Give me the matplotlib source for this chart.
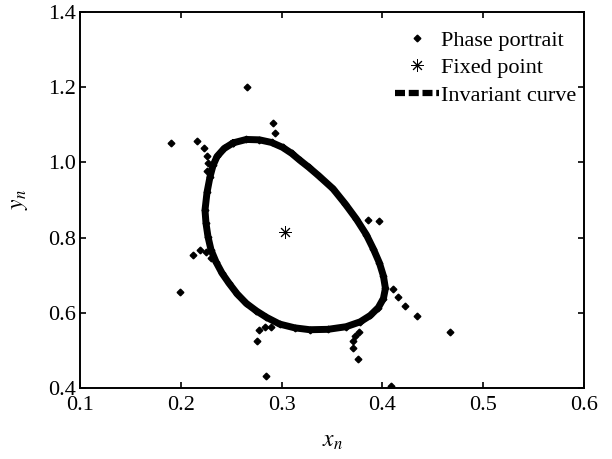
import matplotlib
matplotlib.use("Agg")
import matplotlib.pyplot as plt
from matplotlib.lines import Line2D

plt.rcParams['font.family'] = ['Liberation Serif', 'DejaVu Serif']
plt.rcParams['mathtext.fontset'] = 'stix'

# Invariant curve (closed loop)
curve_x = [0.252, 0.265, 0.278, 0.290, 0.301, 0.310, 0.318, 0.327, 0.337, 0.351,
           0.363, 0.374, 0.384, 0.391, 0.397, 0.401, 0.403, 0.401, 0.396, 0.388,
           0.378, 0.364, 0.346, 0.328, 0.313, 0.298, 0.285, 0.275, 0.265, 0.256,
           0.248, 0.241, 0.235, 0.230, 0.227, 0.225, 0.224, 0.226, 0.229, 0.232,
           0.236, 0.243, 0.252]
curve_y = [1.052, 1.061, 1.060, 1.053, 1.040, 1.024, 1.006, 0.987, 0.964, 0.930,
           0.890, 0.850, 0.808, 0.770, 0.733, 0.698, 0.665, 0.638, 0.614, 0.593,
           0.576, 0.563, 0.556, 0.555, 0.560, 0.570, 0.588, 0.605, 0.625, 0.650,
           0.678, 0.705, 0.735, 0.767, 0.802, 0.838, 0.873, 0.920, 0.962, 0.992,
           1.016, 1.037, 1.052]

# Phase portrait points scattered off the curve
phase_x = [0.266, 0.291, 0.293, 0.190, 0.216, 0.223, 0.226, 0.227, 0.226,
           0.386, 0.397, 0.212, 0.219, 0.225, 0.230, 0.199,
           0.278, 0.284, 0.289, 0.276, 0.285,
           0.411, 0.415, 0.422, 0.434, 0.467,
           0.371, 0.371, 0.373, 0.377, 0.376, 0.409]
phase_y = [1.200, 1.104, 1.079, 1.052, 1.057, 1.037, 1.018, 0.999, 0.978,
           0.847, 0.845, 0.754, 0.767, 0.762, 0.745, 0.656,
           0.554, 0.563, 0.563, 0.525, 0.432,
           0.662, 0.641, 0.618, 0.591, 0.550,
           0.526, 0.507, 0.538, 0.550, 0.477, 0.405]

fixed_x = [0.303]
fixed_y = [0.814]

x_ticks = [0.1, 0.2, 0.3, 0.4, 0.5, 0.6]
y_ticks = [0.4, 0.6, 0.8, 1.0, 1.2, 1.4]

fig = plt.figure(figsize=(6.12, 4.59), dpi=100)
ax = fig.add_axes([80/612, 1-388/459, (584-80)/612, (388-12)/459])

# invariant curve: thick band
ax.plot(curve_x, curve_y, color='black', lw=5.0, solid_joinstyle='round',
        solid_capstyle='round', zorder=2)
# phase portrait points (on and off the curve)
ax.plot(curve_x + phase_x, curve_y + phase_y, linestyle='none', marker='D',
        ms=3.4, color='black', mec='black', zorder=3)
ax.plot(fixed_x, fixed_y, linestyle='none', marker=(8, 2, 0), ms=9,
        color='black', mew=0.7, zorder=4)

ax.set_xlim(0.1, 0.6)
ax.set_ylim(0.4, 1.4)
ax.set_xticks(x_ticks)
ax.set_yticks(y_ticks)
ax.set_xticklabels([f"{v:.1f}" for v in x_ticks])
ax.set_yticklabels([f"{v:.1f}" for v in y_ticks])
ax.tick_params(direction='in', length=4, width=1.2, labelsize=16,
               top=True, right=True)
ax.tick_params(axis='x', pad=6)
ax.tick_params(axis='y', pad=3)
for s in ax.spines.values():
    s.set_linewidth(1.4)

ax.set_xlabel(r'$x_n$', fontsize=17, labelpad=11)
ax.set_ylabel(r'$y_n$', fontsize=17, labelpad=13)

handles = [
    Line2D([], [], linestyle='none', marker='D', ms=3.4, color='black'),
    Line2D([], [], linestyle='none', marker=(8, 2, 0), ms=9, color='black', mew=0.7),
    Line2D([], [], color='black', lw=4.5, dashes=(1.6, 0.6)),
]
labels = ['Phase portrait', 'Fixed point', 'Invariant curve']
ax.legend(handles, labels, loc='upper right', frameon=False, fontsize=16,
          handlelength=2.0, handletextpad=0.1, labelspacing=0.32,
          borderaxespad=0.0, borderpad=0.0,
          bbox_to_anchor=(0.985, 0.952))

fig.savefig('out.png', dpi=100)
